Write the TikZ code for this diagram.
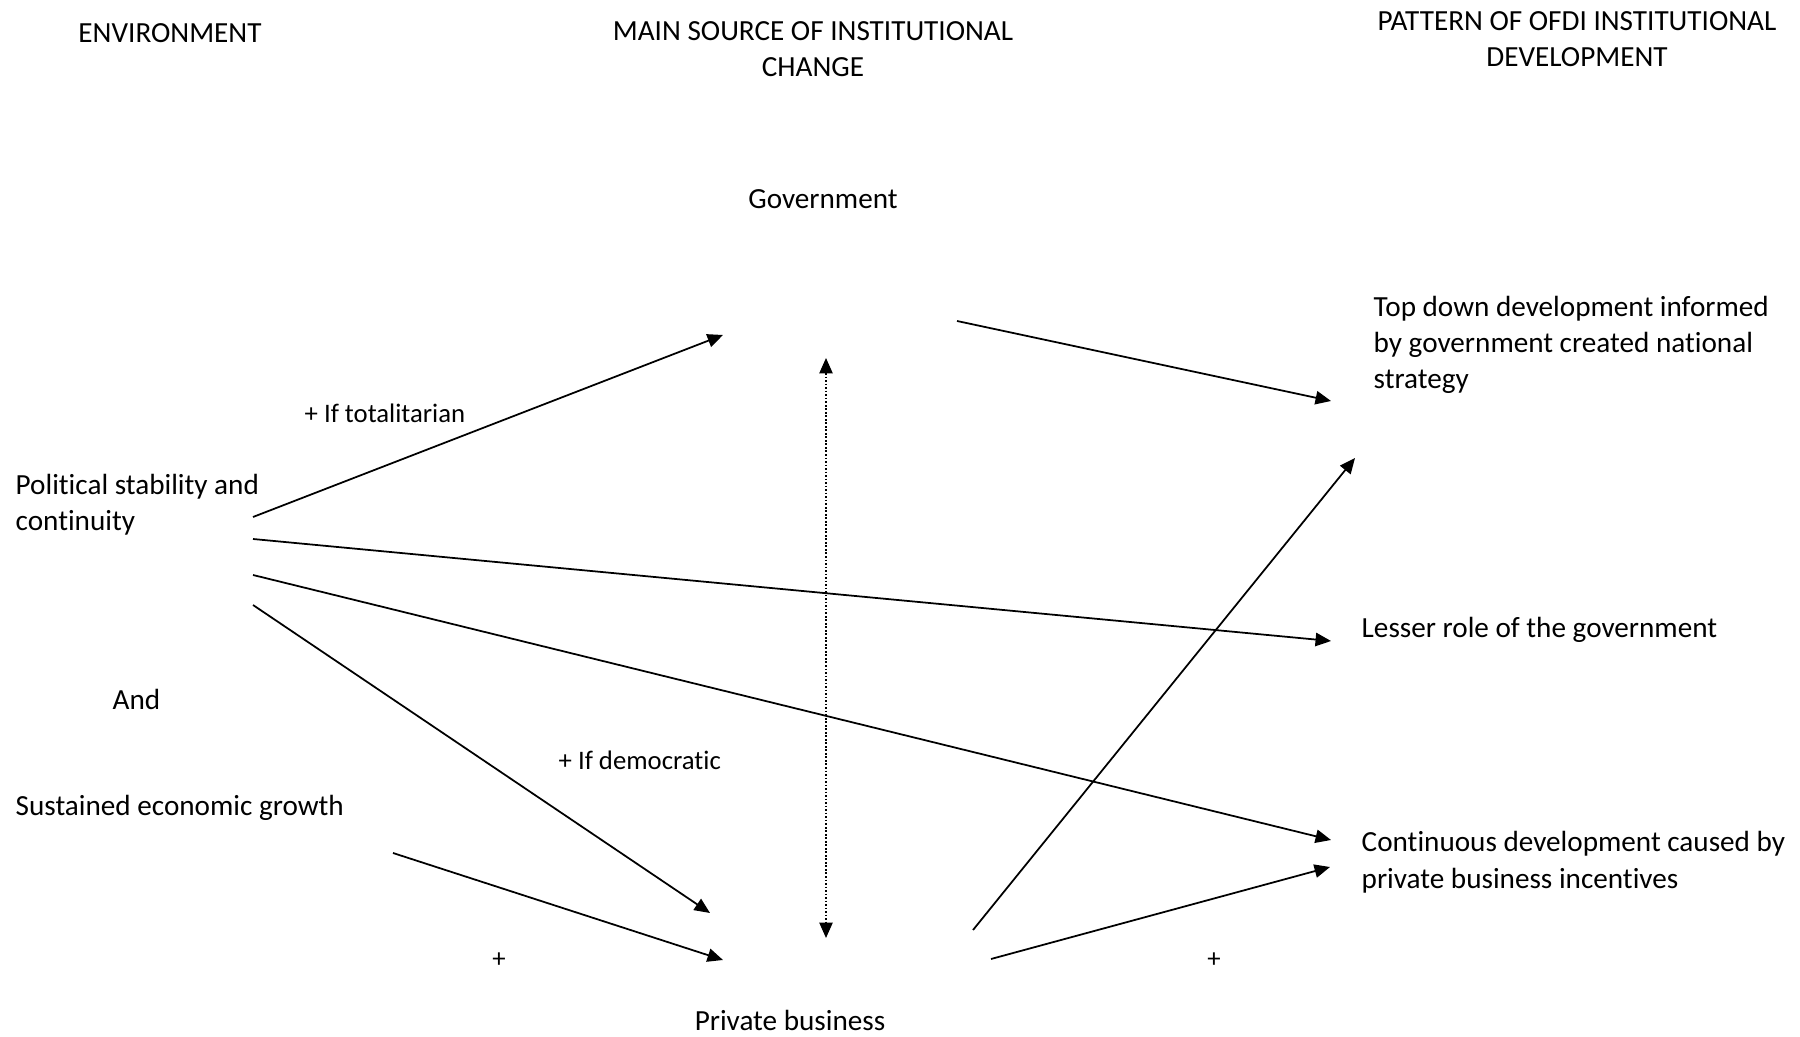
\documentclass[tikz,border=0pt]{standalone}
\usepackage{fontspec}
\setmainfont{Carlito}[Ligatures=NoCommon]
\usetikzlibrary{arrows.meta}
\begin{document}
\begin{tikzpicture}[x=0.01cm, y=-0.01cm, every node/.style={inner sep=0pt, font=\fontsize{8.3}{10.24}\selectfont},
  small/.style={font=\fontsize{7.6}{9.4}\selectfont},
  arr/.style={-{Triangle[length=4.4pt,width=3.8pt]}, line width=0.5pt},
  dotarr/.style={{Triangle[length=4.4pt,width=3.8pt]}-{Triangle[length=4.4pt,width=3.8pt]}, line width=0.4pt, dash pattern=on 0.5pt off 0.5pt}]
\useasboundingbox (0,0) rectangle (1800,1037);
\node[anchor=base] (env) at (170, 43) {ENVIRONMENT};
\node[anchor=base, align=center] (src) at (813, 77) {MAIN SOURCE OF INSTITUTIONAL\\CHANGE};
\node[anchor=base, align=center] (pat) at (1577, 67) {PATTERN OF OFDI INSTITUTIONAL\\DEVELOPMENT};
\node[anchor=base] (gov) at (823, 209) {Government};
\node[anchor=base west, align=left] (pol) at (15, 531) {Political stability and\\continuity};
\node[anchor=base west, small] (totl) at (304, 423) {+ If totalitarian};
\node[anchor=base west] (and) at (112, 709) {And};
\node[anchor=base west, small] (demo) at (558, 770) {+ If democratic};
\node[anchor=base west] (sus) at (15, 815) {Sustained economic growth};
\node[anchor=base, small] (plusl) at (499, 967) {+};
\node[anchor=base, small] (plusr) at (1214, 967) {+};
\node[anchor=base] (priv) at (790, 1030) {Private business};
\node[anchor=base west, align=left] (top) at (1373, 389) {Top down development informed\\by government created national\\strategy};
\node[anchor=base west] (less) at (1361, 638) {Lesser role of the government};
\node[anchor=base west, align=left] (cont) at (1361, 888) {Continuous development caused by\\private business incentives};
% arrow ends
\coordinate (pol1) at (253, 517);
\coordinate (pol2) at (253, 539);
\coordinate (pol3) at (253, 575);
\coordinate (pol4) at (253, 605);
\coordinate (sus1) at (393, 853);
\coordinate (govin) at (723, 335);
\coordinate (govout) at (957, 321);
\coordinate (govdot) at (826, 358);
\coordinate (privdot) at (826, 938);
\coordinate (privin1) at (710, 913);
\coordinate (privin2) at (723, 960);
\coordinate (privout1) at (973, 930);
\coordinate (privout2) at (991, 959);
\coordinate (topin1) at (1331, 401);
\coordinate (topin2) at (1355, 458);
\coordinate (lessin) at (1331, 641);
\coordinate (contin1) at (1331, 840);
\coordinate (contin2) at (1330, 867);
\draw[arr] (pol1) -- (govin);
\draw[arr] (govout) -- (topin1);
\draw[dotarr] (govdot) -- (privdot);
\draw[arr] (pol2) -- (lessin);
\draw[arr] (pol3) -- (contin1);
\draw[arr] (pol4) -- (privin1);
\draw[arr] (sus1) -- (privin2);
\draw[arr] (privout1) -- (topin2);
\draw[arr] (privout2) -- (contin2);
\end{tikzpicture}
\end{document}
